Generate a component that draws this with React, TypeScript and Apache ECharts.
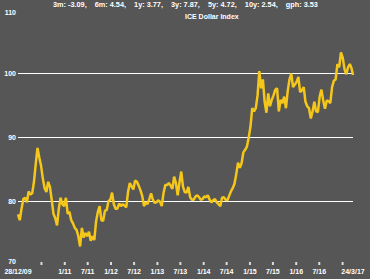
import React, { useEffect, useRef } from "react";
import * as echarts from "echarts";

const DAY = 86400000;
const START = Date.UTC(2009, 11, 28);
const END = Date.UTC(2017, 2, 24);

// ICE Dollar Index, fortnightly samples (last = 24/3/17)
const values2009: number[] = [77.9];
const values2010: number[] = [77.0, 78.8, 80.3, 80.5, 79.8, 81.5, 81.0, 81.2, 83.0, 85.8, 88.3, 86.8, 85.5, 83.5, 82.0, 81.4, 83.0, 82.2, 80.2, 78.0, 77.3, 76.2, 78.8, 80.5, 79.5, 79.2];
const values2011: number[] = [80.5, 78.0, 78.3, 77.0, 76.5, 75.8, 75.5, 74.5, 72.9, 75.8, 74.3, 75.0, 74.5, 75.2, 73.8, 74.5, 73.9, 76.8, 78.3, 79.2, 77.0, 76.9, 78.5, 78.6, 80.0, 80.2];
const values2012: number[] = [81.3, 79.5, 78.8, 78.8, 79.6, 79.2, 79.5, 79.3, 79.0, 81.4, 82.8, 82.3, 81.8, 83.2, 83.0, 82.4, 81.7, 80.8, 79.2, 79.8, 79.5, 80.3, 81.2, 80.2, 79.7, 79.8];
const values2013: number[] = [80.1, 79.9, 79.2, 81.2, 82.5, 82.5, 82.8, 82.4, 81.9, 83.8, 82.8, 80.9, 82.9, 84.6, 82.2, 81.4, 81.3, 82.2, 80.6, 80.2, 80.2, 80.7, 80.9, 80.6, 80.2, 80.3];
const values2014: number[] = [80.7, 80.6, 80.9, 80.2, 79.8, 80.1, 80.3, 79.8, 79.5, 79.2, 80.5, 80.6, 80.2, 80.1, 80.8, 81.5, 82.0, 82.7, 84.2, 86.0, 85.2, 85.9, 87.6, 88.0, 88.5, 89.9];
const values2015: number[] = [91.6, 94.5, 94.0, 94.5, 96.5, 100.3, 97.6, 99.0, 95.5, 93.8, 96.8, 94.8, 95.8, 96.5, 97.4, 97.6, 94.0, 95.8, 95.3, 96.3, 94.5, 97.2, 99.0, 99.9, 97.8, 98.2];
const values2016: number[] = [98.6, 99.4, 97.0, 97.3, 97.8, 95.5, 94.8, 94.5, 92.9, 94.0, 95.5, 94.0, 93.9, 96.3, 97.4, 95.7, 94.4, 95.7, 95.6, 95.3, 97.8, 98.8, 99.0, 101.4, 100.9, 103.2];
const values2017: number[] = [102.4, 100.6, 99.8, 100.9, 101.4, 100.7, 99.7];

const values: number[] = [
  ...values2009, ...values2010, ...values2011, ...values2012,
  ...values2013, ...values2014, ...values2015, ...values2016, ...values2017,
];
const dates: number[] = values.map((_, i) => (i === values.length - 1 ? END : START + i * 14 * DAY));

// half-year tick marks
const tickDates: number[] = [
  Date.UTC(2010, 6, 1), Date.UTC(2011, 0, 1), Date.UTC(2011, 6, 1), Date.UTC(2012, 0, 1),
  Date.UTC(2012, 6, 1), Date.UTC(2013, 0, 1), Date.UTC(2013, 6, 1), Date.UTC(2014, 0, 1),
  Date.UTC(2014, 6, 1), Date.UTC(2015, 0, 1), Date.UTC(2015, 6, 1), Date.UTC(2016, 0, 1),
  Date.UTC(2016, 6, 1), Date.UTC(2017, 0, 1),
];
const labelDates: number[] = [START, ...tickDates.slice(1, tickDates.length - 1), END];

const yTicks = { min: 70, max: 110, interval: 10 };
const subtitle = "3m: -3.09,    6m: 4.54,    1y: 3.77,    3y: 7.87,    5y: 4.72,    10y: 2.54,    gph: 3.53";
const title = "ICE Dollar Index";

const FONT = "'Liberation Sans', Arial, sans-serif";

function fmt(v: number): string {
  const d = new Date(v);
  const yy = String(d.getUTCFullYear() % 100).padStart(2, "0");
  const m = d.getUTCMonth() + 1;
  if (v === START || v === END) return `${d.getUTCDate()}/${m}/${yy}`;
  return `${m}/${yy}`;
}

export default function App() {
  const ref = useRef<HTMLDivElement>(null);
  useEffect(() => {
    if (!ref.current) return;
    const chart = echarts.init(ref.current, undefined, { renderer: "svg" });
    chart.setOption({
      animation: false,
      backgroundColor: "#565656",
      grid: { left: 18, right: 17, top: 9, bottom: 14, containLabel: false },
      graphic: [
        {
          type: "text",
          left: 53,
          top: 1,
          style: { text: subtitle.replace(/ /g, "\u00a0"), fill: "#ffffff", font: `bold 7.3px ${FONT}` },
        },
        {
          type: "text",
          left: 185,
          top: 13,
          style: { text: title.replace(/ /g, "\u00a0"), fill: "#ffffff", font: `bold 7px ${FONT}` },
        },
      ],
      xAxis: {
        type: "value",
        min: START,
        max: END,
        axisLine: { show: false },
        splitLine: { show: false },
        axisTick: { show: false },
        axisLabel: {
          customValues: labelDates,
          formatter: (v: number) => fmt(v),
          color: "#ffffff",
          fontSize: 7,
          fontWeight: "bold",
          fontFamily: FONT,
          margin: 3,
          hideOverlap: false,
        },
      },
      yAxis: {
        type: "value",
        min: yTicks.min,
        max: yTicks.max,
        interval: yTicks.interval,
        axisLine: { show: false },
        axisTick: { show: false },
        axisLabel: {
          color: "#ffffff",
          fontSize: 7,
          fontWeight: "bold",
          fontFamily: FONT,
          margin: 2,
          verticalAlignMinLabel: "bottom",
          verticalAlignMaxLabel: "top",
        },
        splitLine: {
          show: true,
          showMinLine: false,
          showMaxLine: false,
          lineStyle: { color: "#ffffff", width: 1 },
        },
      },
      series: [
        {
          type: "line",
          data: dates.map((d, i) => [d, values[i]]),
          showSymbol: false,
          lineStyle: { color: "#f5c71a", width: 2.5 },
          itemStyle: { color: "#f5c71a" },
        },
        {
          type: "scatter",
          data: tickDates.map((d) => [d, yTicks.min]),
          symbol: "rect",
          symbolSize: [2, 3],
          symbolOffset: [0, -1.5],
          itemStyle: { color: "#ffffff" },
          clip: false,
          silent: true,
          z: 1,
        },
      ],
    });
    return () => chart.dispose();
  }, []);
  return <div ref={ref} style={{ position: "fixed", left: 0, top: 0, width: 370, height: 279 }} />;
}
